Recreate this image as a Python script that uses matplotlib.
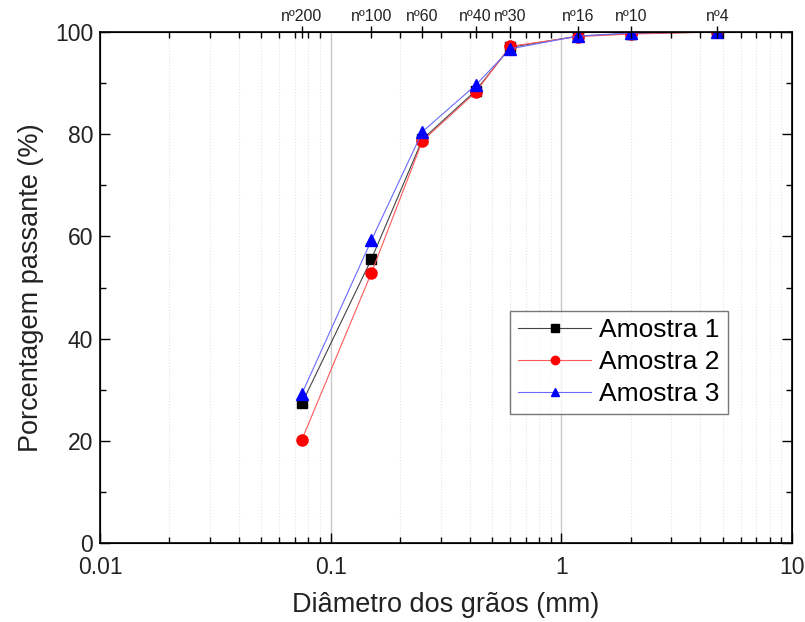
import numpy as np
import matplotlib.pyplot as plt
from matplotlib.ticker import LogLocator, NullFormatter, FixedLocator

plt.rcParams['font.family'] = ['Liberation Sans', 'DejaVu Sans']

diam = [0.075, 0.15, 0.25, 0.425, 0.6, 1.18, 2.0, 4.75]
sieves = ['nº200', 'nº100', 'nº60', 'nº40', 'nº30', 'nº16', 'nº10', 'nº4']
am1 = [27.3, 55.5, 79.0, 88.5, 97.0, 99.2, 99.7, 100.0]
am2 = [20.2, 52.8, 78.7, 88.2, 97.2, 99.1, 99.6, 100.0]
am3 = [29.2, 59.2, 80.5, 89.6, 96.7, 99.2, 99.8, 100.0]

fig = plt.figure(figsize=(8.05, 6.22), dpi=100)
ax = fig.add_axes([100/805, 1-543/622, 692/805, 511/622])

ax.plot(diam, am1, color='#444444', lw=0.8, marker='s', ms=7, mfc='black', mec='black', label='Amostra 1', zorder=3)
ax.plot(diam, am2, color='#ff5a5a', lw=0.8, marker='o', ms=8, mfc='red', mec='red', label='Amostra 2', zorder=3)
ax.plot(diam, am3, color='#6a6aff', lw=0.8, marker='^', ms=8, mfc='blue', mec='blue', label='Amostra 3', zorder=4)

ax.set_xscale('log')
ax.set_xlim(0.01, 10)
ax.set_ylim(0, 100)
ax.set_yticks([0, 20, 40, 60, 80, 100])
ax.set_xticks([0.01, 0.1, 1, 10])
ax.set_xticklabels(['0.01', '0.1', '1', '10'])
ax.xaxis.set_minor_locator(LogLocator(base=10, subs=np.arange(2, 10)))
ax.xaxis.set_minor_formatter(NullFormatter())
ax.yaxis.set_minor_locator(FixedLocator(np.arange(10, 100, 20)))

ax.grid(True, which='major', axis='x', color='#c8c8c8', lw=1.0)
ax.grid(True, which='minor', axis='x', color='#e4e4e4', lw=0.8, ls=':')

ax.tick_params(which='both', direction='in', labelsize=16.5, labelcolor='#222222')
ax.tick_params(which='major', length=7, width=1)
ax.tick_params(which='minor', length=4, width=1)
ax.tick_params(axis='y', right=True, which='both', pad=5)
ax.tick_params(axis='x', pad=9)
for s in ax.spines.values():
    s.set_linewidth(1.2)

ax.set_xlabel('Diâmetro dos grãos (mm)', fontsize=19.5, labelpad=10, color='#222222')
ax.set_ylabel('Porcentagem passante (%)', fontsize=19.5, labelpad=8, color='#222222')

top = ax.twiny()
top.set_xscale('log')
top.set_xlim(ax.get_xlim())
top.xaxis.set_minor_locator(LogLocator(base=10, subs=np.arange(2, 10)))
top.xaxis.set_minor_formatter(NullFormatter())
top.set_xticks(diam)
top.set_xticklabels(sieves, fontsize=11.5, color='#222222')
top.tick_params(which='major', direction='inout', length=8, width=1, pad=2)
top.tick_params(which='minor', direction='in', length=4, width=1)

leg = ax.legend(loc='lower left', bbox_to_anchor=(0.592, 0.252), fontsize=19,
                fancybox=False, edgecolor='#555555', handlelength=2.8,
                borderpad=0.3, labelspacing=0.3, handletextpad=0.3,
                markerscale=0.75, borderaxespad=0)
leg.get_frame().set_linewidth(1.0)

fig.savefig('out.png', dpi=100)
